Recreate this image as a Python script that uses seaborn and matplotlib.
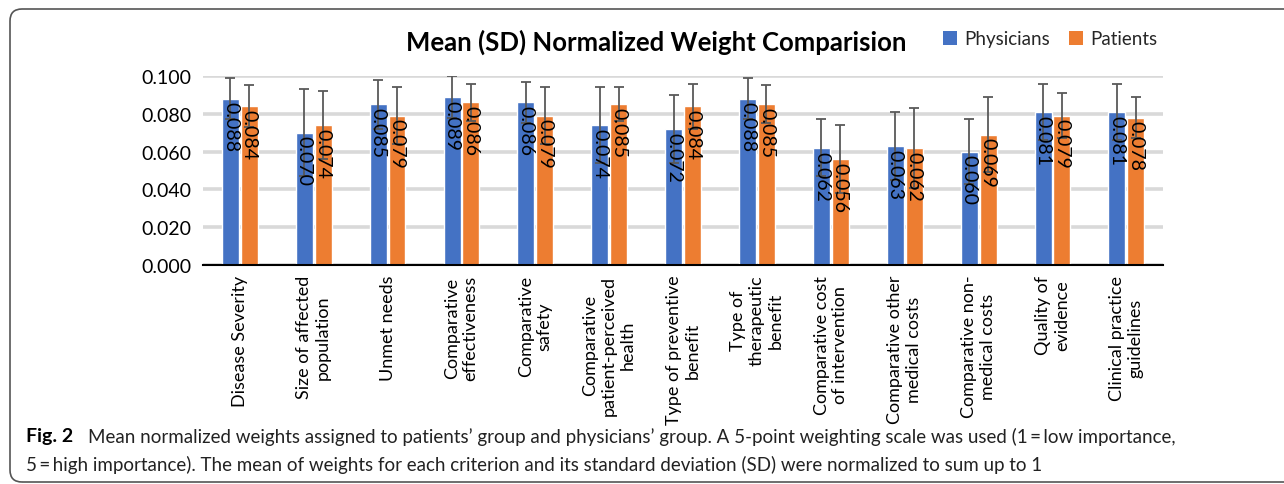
import numpy as np
import pandas as pd
import matplotlib
matplotlib.use("Agg")
import matplotlib.pyplot as plt
import seaborn as sns
from matplotlib.patches import FancyBboxPatch, Patch

# ------------------------------
# data
# ------------------------------
criteria = [
    "Disease Severity",
    "Size of affected\npopulation",
    "Unmet needs",
    "Comparative\neffectiveness",
    "Comparative\nsafety",
    "Comparative\npatient-perceived\nhealth",
    "Type of preventive\nbenefit",
    "Type of\ntherapeutic\nbenefit",
    "Comparative cost\nof intervention",
    "Comparative other\nmedical costs",
    "Comparative non-\nmedical costs",
    "Quality of\nevidence",
    "Clinical practice\nguidelines",
]
physicians_mean = [0.088, 0.070, 0.085, 0.089, 0.086, 0.074, 0.072, 0.088, 0.062, 0.063, 0.060, 0.081, 0.081]
physicians_sd = [0.011, 0.023, 0.013, 0.011, 0.011, 0.020, 0.018, 0.011, 0.015, 0.018, 0.017, 0.015, 0.015]
patients_mean = [0.084, 0.074, 0.079, 0.086, 0.079, 0.085, 0.084, 0.085, 0.056, 0.062, 0.069, 0.079, 0.078]
patients_sd = [0.011, 0.018, 0.015, 0.010, 0.015, 0.009, 0.012, 0.010, 0.018, 0.021, 0.020, 0.012, 0.011]
groups = ["Physicians", "Patients"]
bar_colors = ["#4472C4", "#ED7D31"]

title = "Mean (SD) Normalized Weight Comparision"
caption_1 = ("Mean normalized weights assigned to patients\u2019 group and physicians\u2019 group. "
             "A 5-point weighting scale was used (1\u2009=\u2009low importance,")
caption_2 = ("5\u2009=\u2009high importance). The mean of weights for each criterion and its "
             "standard deviation (SD) were normalized to sum up to 1")

df = pd.DataFrame({
    "criterion": criteria * 2,
    "group": [groups[0]] * len(criteria) + [groups[1]] * len(criteria),
    "weight": physicians_mean + patients_mean,
})
sds = [physicians_sd, patients_sd]

# ------------------------------
# figure
# ------------------------------
sns.set_theme(style="white")
plt.rcParams["font.family"] = ["Lato", "DejaVu Sans"]

fig = plt.figure(figsize=(12.84, 4.85), dpi=100)
ax = fig.add_axes([0.158, 0.4515, 0.748, 0.3897])

sns.barplot(data=df, x="criterion", y="weight", hue="group", hue_order=groups,
            palette=bar_colors, width=0.51, gap=0.1, errorbar=None,
            saturation=1, legend=False, ax=ax, zorder=2)

# error bars (SD) and value labels inside the bars
for cont, sd in zip(ax.containers, sds):
    xs = [p.get_x() + p.get_width() / 2 for p in cont.patches]
    hs = [p.get_height() for p in cont.patches]
    ax.errorbar(xs, hs, yerr=sd, fmt="none", ecolor="#595959", elinewidth=1.3,
                capsize=3.6, capthick=1.3, zorder=3)
    for x, h in zip(xs, hs):
        ax.annotate(f"{h:.3f}", (x, h), xytext=(0, -2), textcoords="offset points",
                    rotation=270, ha="center", va="top", fontsize=14,
                    color="black", zorder=4)

ax.set_ylim(0, 0.1)
ax.set_xlim(-0.5, len(criteria) - 0.5)
ax.set_yticks(np.arange(0, 0.1001, 0.02))
ax.set_yticklabels([f"{v:.3f}" for v in np.arange(0, 0.1001, 0.02)])
ax.set_axisbelow(True)
ax.yaxis.grid(True, color="#D9D9D9", linewidth=2.6)
ax.xaxis.grid(False)
ax.set_xlabel("")
ax.set_ylabel("")
ax.tick_params(axis="y", length=0, pad=8, labelsize=14, labelcolor="black")
ax.tick_params(axis="x", length=0, pad=7, labelsize=13, labelcolor="black")
plt.setp(ax.get_xticklabels(), rotation=90, ha="center", va="top", multialignment="center")
for s in ["left", "top", "right"]:
    ax.spines[s].set_visible(False)
ax.spines["bottom"].set_color("black")
ax.spines["bottom"].set_linewidth(1.5)

fig.text(0.511, 0.913, title, ha="center", va="center", fontsize=18.5,
         fontweight="bold", color="black")
handles = [Patch(facecolor=c, edgecolor="none") for c in bar_colors]
fig.legend(handles, groups, loc="center", bbox_to_anchor=(0.818, 0.918), ncol=2,
           frameon=False, fontsize=13.5, handlelength=0.75, handleheight=0.75,
           handletextpad=0.4, columnspacing=1.0)

# caption box
box = FancyBboxPatch((0.10, 0.02), 13.0, 4.73, boxstyle="round,pad=0,rounding_size=0.12",
                     transform=fig.dpi_scale_trans, facecolor="none",
                     edgecolor="#555555", linewidth=1.2)
fig.add_artist(box)
fig.text(26 / 1284, 1 - 437 / 485, "Fig. 2", ha="left", va="center", fontsize=14,
         fontweight="bold", color="black")
fig.text(88 / 1284, 1 - 437 / 485, caption_1, ha="left", va="center", fontsize=13.5,
         color="#222222")
fig.text(26 / 1284, 1 - 465 / 485, caption_2, ha="left", va="center", fontsize=13.5,
         color="#222222")

fig.savefig("out.png", dpi=100)
